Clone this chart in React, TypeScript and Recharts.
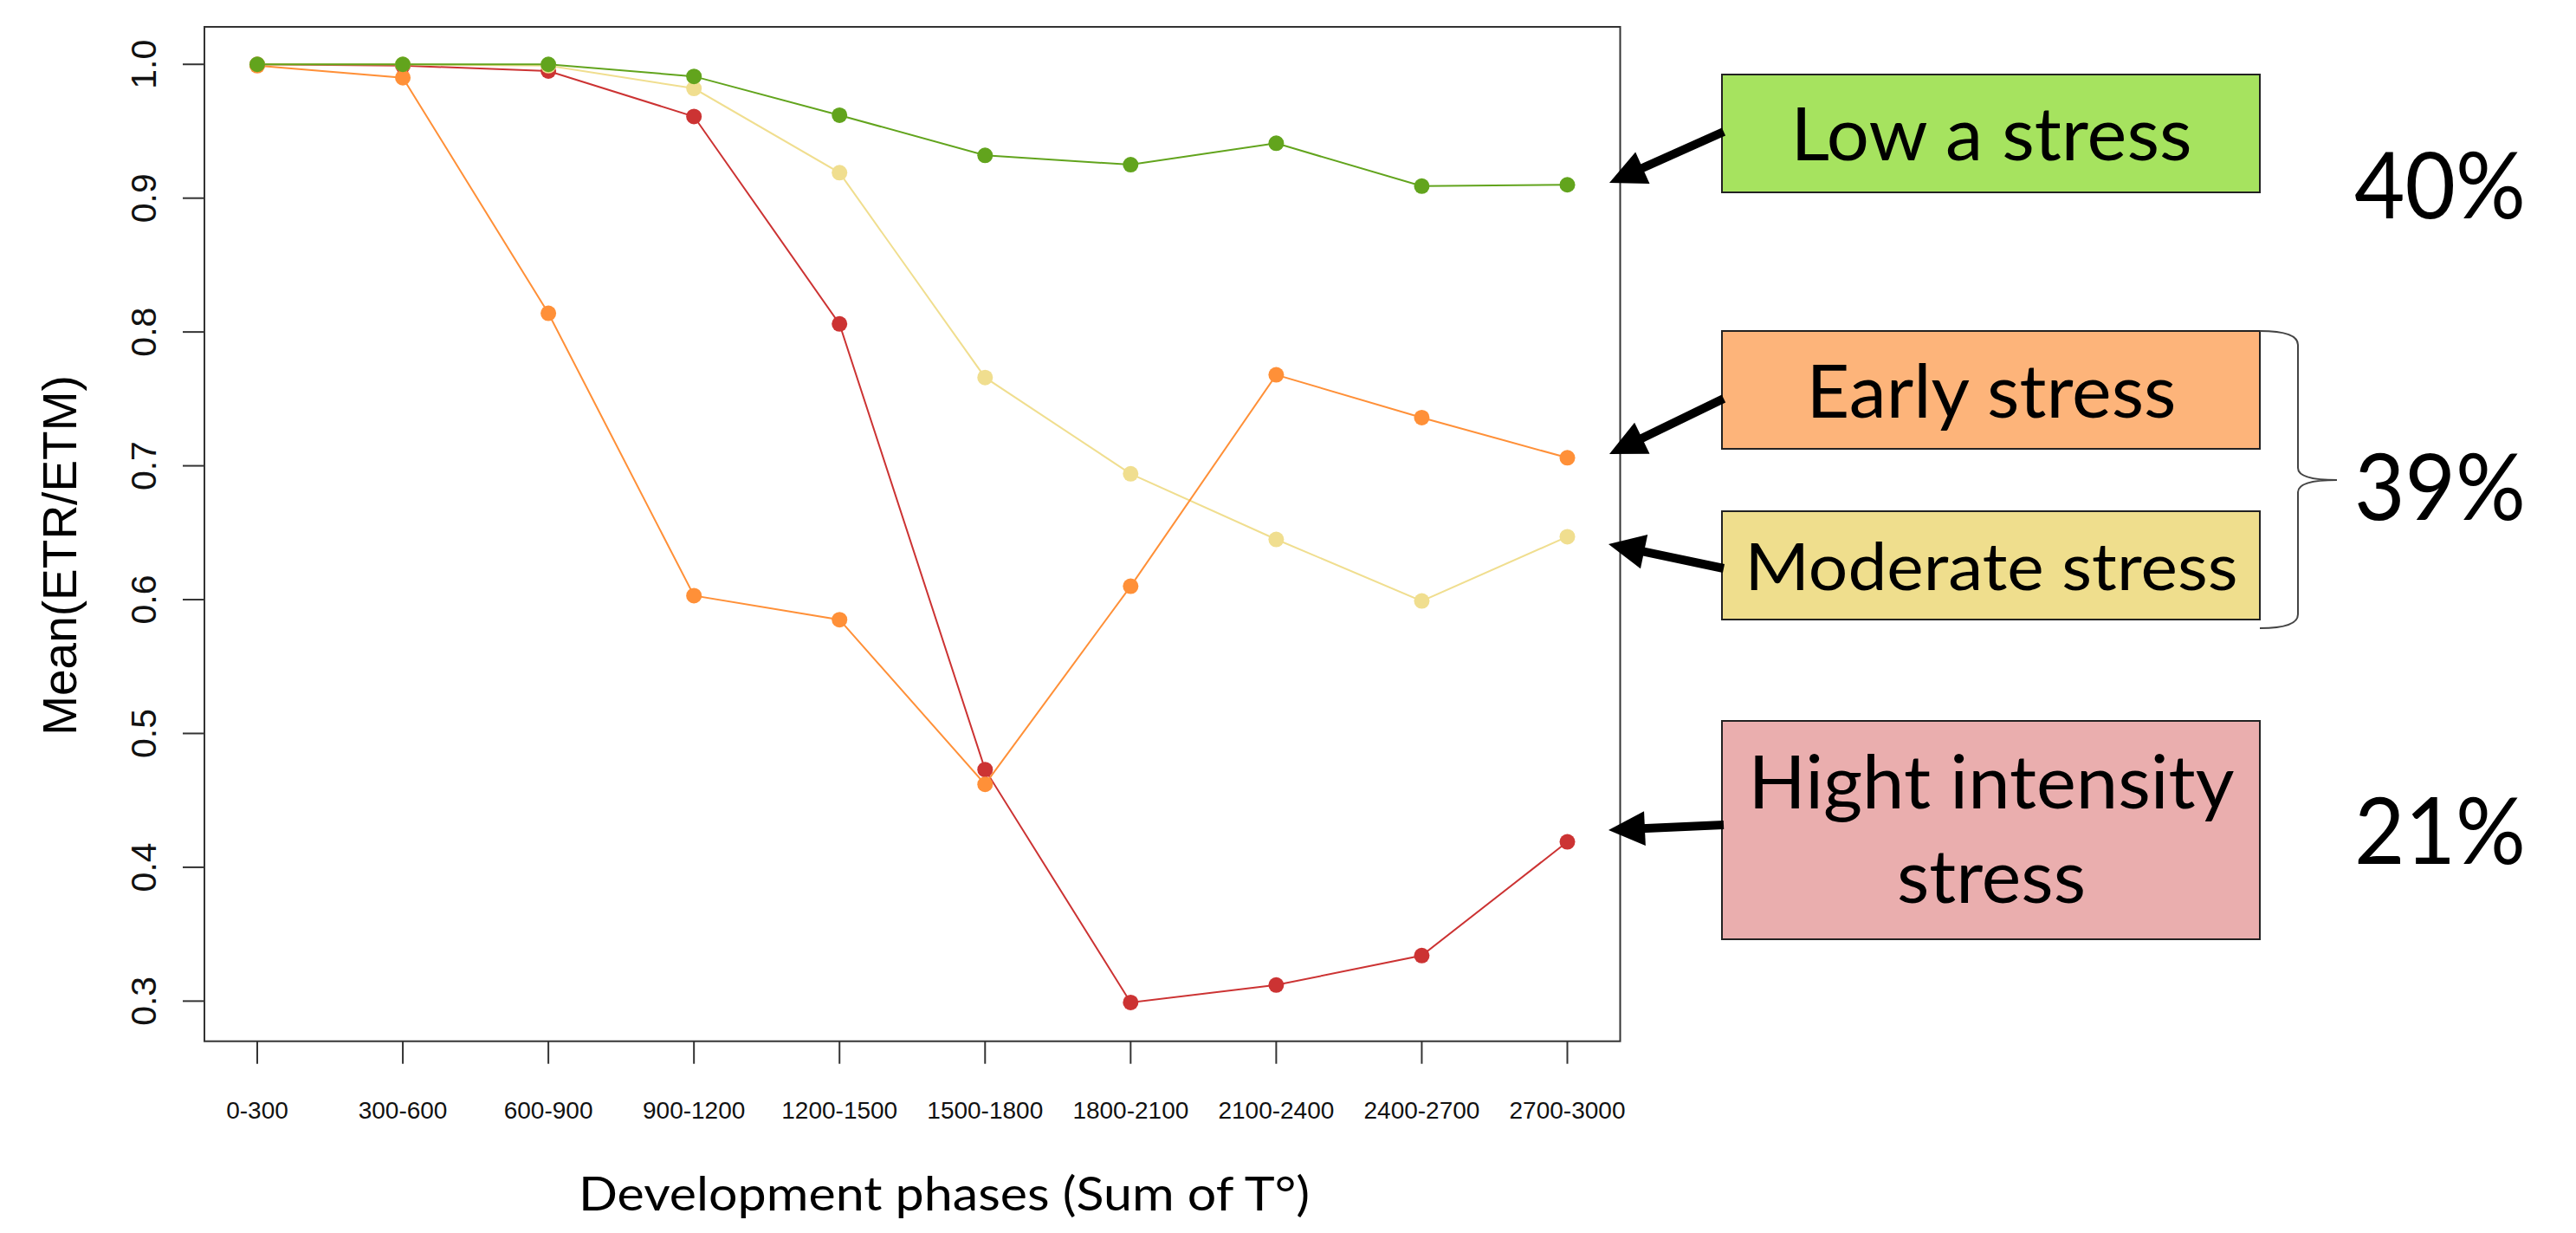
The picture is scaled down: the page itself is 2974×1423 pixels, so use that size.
import React from "react";
import { LineChart, Line, XAxis, YAxis } from "recharts";

const phases = ["0-300", "300-600", "600-900", "900-1200", "1200-1500", "1500-1800", "1800-2100", "2100-2400", "2400-2700", "2700-3000"];
const lowStress = [1.0, 1.0, 1.0, 0.991, 0.962, 0.932, 0.925, 0.941, 0.909, 0.91];
const earlyStress = [0.999, 0.99, 0.814, 0.603, 0.585, 0.462, 0.61, 0.768, 0.736, 0.706];
const moderateStress = [1.0, 1.0, 0.999, 0.982, 0.919, 0.766, 0.694, 0.645, 0.599, 0.647];
const highStress = [1.0, 0.999, 0.995, 0.961, 0.806, 0.473, 0.299, 0.312, 0.334, 0.419];
const yTicks = [0.3, 0.4, 0.5, 0.6, 0.7, 0.8, 0.9, 1.0];
const shares = ["40%", "39%", "21%"];

const data = phases.map((phase, i) => ({
  phase,
  low: lowStress[i],
  early: earlyStress[i],
  moderate: moderateStress[i],
  high: highStress[i],
}));

const W = 2974;
const H = 1423;
// plot box
const PL = 236, PT = 31, PR = 1870.5, PB = 1201.7;

const arial = "'Liberation Sans', Arial, Helvetica, sans-serif";
const calibri = "Lato, 'Open Sans', sans-serif";

const colors = {
  low: "#62A41D",
  early: "#FF9038",
  moderate: "#F0DE8F",
  high: "#CC3333",
};

function YTick(props: any) {
  const { y, payload } = props;
  const bx = 180;
  return (
    <text x={bx} y={y} transform={`rotate(-90 ${bx} ${y})`} textAnchor="middle" fontFamily={arial} fontSize={41} fill="#111">
      {Number(payload.value).toFixed(1)}
    </text>
  );
}

function XTick(props: any) {
  const { x, payload } = props;
  return (
    <text x={x} y={1291} textAnchor="middle" fontFamily={arial} fontSize={28} fill="#111">
      {payload.value}
    </text>
  );
}

function Arrow({ x1, y1, x2, y2 }: { x1: number; y1: number; x2: number; y2: number }) {
  const dx = x2 - x1, dy = y2 - y1;
  const len = Math.hypot(dx, dy);
  const ux = dx / len, uy = dy / len;
  const hl = 42, hw = 20;
  const bx = x2 - ux * hl, by = y2 - uy * hl;
  const px = -uy, py = ux;
  return (
    <g>
      <line x1={x1} y1={y1} x2={bx + ux * 4} y2={by + uy * 4} stroke="#000" strokeWidth={10} />
      <polygon points={`${x2},${y2} ${bx + px * hw},${by + py * hw} ${bx - px * hw},${by - py * hw}`} fill="#000" />
    </g>
  );
}

function Annotations() {
  const boxX = 1988, boxW = 621;
  const cx = 2299;
  return (
    <svg width={W} height={H} style={{ position: "absolute", left: 0, top: 0, pointerEvents: "none" }}>
      <rect x={PL} y={PT} width={PR - PL} height={PB - PT} fill="none" stroke="#333" strokeWidth={2} />
      <text x={88} y={641} transform="rotate(-90 88 641)" textAnchor="middle" fontFamily={arial} fontSize={55} fill="#000">
        Mean(ETR/ETM)
      </text>
      <text x={1090} y={1397} textAnchor="middle" fontFamily={calibri} fontSize={54} textLength={844} lengthAdjust="spacingAndGlyphs" fill="#000">
        Development phases (Sum of T°)
      </text>

      <rect x={boxX} y={86} width={boxW} height={136} fill="#A6E35F" stroke="#222" strokeWidth={2} />
      <text x={cx} y={185} textAnchor="middle" fontFamily={calibri} fontSize={85} textLength={463} lengthAdjust="spacingAndGlyphs">Low a stress</text>

      <rect x={boxX} y={382} width={boxW} height={136} fill="#FDB47A" stroke="#222" strokeWidth={2} />
      <text x={cx} y={482} textAnchor="middle" fontFamily={calibri} fontSize={85} textLength={427} lengthAdjust="spacingAndGlyphs">Early stress</text>

      <rect x={boxX} y={590} width={boxW} height={125} fill="#EFDE8D" stroke="#222" strokeWidth={2} />
      <text x={cx} y={681} textAnchor="middle" fontFamily={calibri} fontSize={76} textLength={569} lengthAdjust="spacingAndGlyphs">Moderate stress</text>

      <rect x={boxX} y={832} width={boxW} height={252} fill="#EAAEAE" stroke="#222" strokeWidth={2} />
      <text x={cx} y={933} textAnchor="middle" fontFamily={calibri} fontSize={85} textLength={561} lengthAdjust="spacingAndGlyphs">Hight intensity</text>
      <text x={cx} y={1042} textAnchor="middle" fontFamily={calibri} fontSize={85} textLength={218} lengthAdjust="spacingAndGlyphs">stress</text>

      <Arrow x1={1990} y1={152} x2={1858} y2={211} />
      <Arrow x1={1990} y1={460} x2={1858} y2={524} />
      <Arrow x1={1990} y1={656} x2={1857} y2={628} />
      <Arrow x1={1990} y1={952} x2={1857} y2={958} />

      <path
        d="M 2609 382 Q 2653 382 2653 398 L 2653 540 Q 2653 554 2698 554 Q 2653 554 2653 568 L 2653 709 Q 2653 725 2609 725"
        fill="none" stroke="#444" strokeWidth={2}
      />

      <text x={2718} y={252} fontFamily={calibri} fontSize={107} textLength={198} lengthAdjust="spacingAndGlyphs">{shares[0]}</text>
      <text x={2718} y={600} fontFamily={calibri} fontSize={107} textLength={198} lengthAdjust="spacingAndGlyphs">{shares[1]}</text>
      <text x={2718} y={997} fontFamily={calibri} fontSize={107} textLength={198} lengthAdjust="spacingAndGlyphs">{shares[2]}</text>
    </svg>
  );
}

export default function App() {
  const yAxisW = 60;
  const xAxisH = 60;
  return (
    <div style={{ position: "absolute", left: 0, top: 0, width: W, height: H, background: "#fff" }}>
      <LineChart
        width={W}
        height={H}
        data={data}
        margin={{ top: PT, right: W - PR, left: PL - yAxisW, bottom: H - PB - xAxisH }}
      >
        <XAxis
          dataKey="phase"
          interval={0}
          padding={{ left: 61, right: 61 }}
          axisLine={false}
          tickSize={26}
          tickLine={{ stroke: "#333", strokeWidth: 2 }}
          tick={(p: any) => <XTick {...p} />}
          height={xAxisH}
        />
        <YAxis
          type="number"
          domain={[0.27, 1.028]}
          ticks={yTicks}
          allowDataOverflow
          axisLine={false}
          tickSize={25}
          tickLine={{ stroke: "#333", strokeWidth: 2 }}
          tick={(p: any) => <YTick {...p} />}
          width={yAxisW}
        />
        <Line dataKey="high" stroke={colors.high} strokeWidth={2} dot={{ r: 9, fill: colors.high, stroke: "none" }} isAnimationActive={false} />
        <Line dataKey="moderate" stroke={colors.moderate} strokeWidth={2} dot={{ r: 9, fill: colors.moderate, stroke: "none" }} isAnimationActive={false} />
        <Line dataKey="early" stroke={colors.early} strokeWidth={2} dot={{ r: 9, fill: colors.early, stroke: "none" }} isAnimationActive={false} />
        <Line dataKey="low" stroke={colors.low} strokeWidth={2} dot={{ r: 9, fill: colors.low, stroke: "none" }} isAnimationActive={false} />
      </LineChart>
      <Annotations />
    </div>
  );
}
